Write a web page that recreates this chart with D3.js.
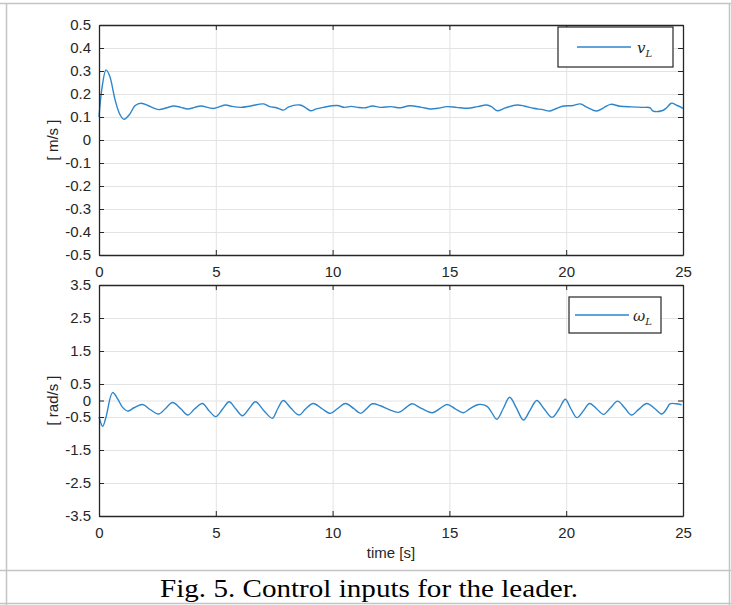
<!DOCTYPE html>
<html>
<head>
<meta charset="utf-8">
<script src="https://cdn.jsdelivr.net/npm/d3@7"></script>
<style>
  body { margin: 0; background: #fff; }
  text { font-family: "Liberation Sans", Arial, sans-serif; }
</style>
</head>
<body>
<div id="the_chart"></div>
<script>
// leader linear velocity v_L [m/s]
var timeV = [0, 0.12, 0.3, 0.45, 0.7, 0.9, 1.07, 1.3, 1.55, 1.8, 2.2, 2.56, 2.9, 3.2, 3.5, 3.8, 4.1, 4.36, 4.9, 5.4,
    5.7, 6.07, 6.5, 7.05, 7.3, 7.6, 7.9, 8.1, 8.6, 8.85, 9.06, 9.3, 9.6, 10.2, 10.5, 10.8, 11.06, 11.4, 11.7, 12.05,
    12.5, 12.9, 13.3, 13.8, 14.2, 14.5, 14.9, 15.3, 15.8, 16.2, 16.6, 16.8, 17.05, 17.4, 17.9, 18.2, 18.6, 19.0, 19.3,
    19.6, 19.9, 20.3, 20.6, 20.9, 21.3, 21.6, 21.9, 22.3, 22.8, 23.3, 23.6, 23.7, 24.1, 24.3, 24.5, 24.75, 25];
var valV = [0.10, 0.22, 0.305, 0.28, 0.17, 0.11, 0.09, 0.11, 0.15, 0.16, 0.145, 0.132, 0.14, 0.148, 0.142, 0.135, 0.142, 0.148, 0.137, 0.152,
    0.146, 0.142, 0.148, 0.157, 0.145, 0.14, 0.13, 0.143, 0.152, 0.14, 0.127, 0.135, 0.142, 0.15, 0.142, 0.146, 0.142, 0.14, 0.148, 0.142,
    0.145, 0.14, 0.149, 0.142, 0.135, 0.138, 0.145, 0.142, 0.138, 0.145, 0.152, 0.145, 0.127, 0.14, 0.152, 0.148, 0.138, 0.132, 0.126,
    0.138, 0.148, 0.15, 0.157, 0.142, 0.126, 0.14, 0.155, 0.147, 0.144, 0.142, 0.14, 0.127, 0.127, 0.14, 0.16, 0.15, 0.138];

// leader angular velocity omega_L [rad/s]
var timeW = [0, 0.16, 0.3, 0.58, 0.8, 1.0, 1.23, 1.5, 1.87, 2.2, 2.56, 2.85, 3.15, 3.5, 3.8, 4.1, 4.43, 4.7, 5.0, 5.3,
    5.57, 5.85, 6.14, 6.42, 6.7, 7.05, 7.42, 7.65, 7.89, 8.2, 8.56, 8.85, 9.17, 9.55, 9.9, 10.2, 10.55, 10.9, 11.2, 11.45,
    11.7, 12.05, 12.4, 12.83, 13.1, 13.4, 13.8, 14.27, 14.6, 14.9, 15.25, 15.6, 15.9, 16.25, 16.6, 16.8, 17.03, 17.3, 17.58,
    17.85, 18.17, 18.45, 18.74, 19.05, 19.4, 19.7, 19.96, 20.2, 20.46, 20.75, 21.0, 21.3, 21.6, 21.9, 22.2, 22.5, 22.8,
    23.1, 23.45, 23.8, 24.1, 24.3, 24.44, 24.7, 24.94];
var valW = [-0.5, -0.78, -0.5, 0.24, 0.05, -0.2, -0.32, -0.22, -0.12, -0.28, -0.41, -0.24, -0.06, -0.25, -0.44, -0.25, -0.09, -0.3, -0.49, -0.25,
    -0.04, -0.25, -0.46, -0.25, -0.04, -0.3, -0.54, -0.25, 0.0, -0.22, -0.44, -0.25, -0.09, -0.25, -0.39, -0.25, -0.09, -0.24, -0.39, -0.25,
    -0.1, -0.16, -0.27, -0.36, -0.24, -0.1, -0.24, -0.37, -0.24, -0.12, -0.25, -0.37, -0.24, -0.12, -0.17, -0.35, -0.57, -0.25, 0.1,
    -0.2, -0.59, -0.3, 0.0, -0.25, -0.51, -0.25, 0.04, -0.25, -0.52, -0.3, -0.09, -0.25, -0.42, -0.22, -0.02, -0.22, -0.44,
    -0.27, -0.09, -0.25, -0.41, -0.25, -0.1, -0.1, -0.13];

var xTicks = [0, 5, 10, 15, 20, 25];
var yTicksV = [-0.5, -0.4, -0.3, -0.2, -0.1, 0, 0.1, 0.2, 0.3, 0.4, 0.5];
var yTicksW = [-3.5, -2.5, -1.5, -0.5, 0, 0.5, 1.5, 2.5, 3.5];

var w = 731, h = 605;
var ink = "#262626", lineColor = "#2d86cc", gridColor = "#e3e3e3";

var svg = d3.select("#the_chart")
    .append("svg")
    .attr("width", w)
    .attr("height", h);

svg.append("rect").attr("width", w).attr("height", h).attr("fill", "#fff");

// table frame round the figure
var frame = svg.append("g").attr("stroke", "#c4c4c4").attr("stroke-width", 1.5);
frame.append("line").attr("x1", 0).attr("x2", w).attr("y1", 3.5).attr("y2", 3.5);
frame.append("line").attr("x1", 6.5).attr("x2", 6.5).attr("y1", 3).attr("y2", h);
frame.append("line").attr("x1", 729.5).attr("x2", 729.5).attr("y1", 3).attr("y2", h);
frame.append("line").attr("x1", 0).attr("x2", w).attr("y1", 570.5).attr("y2", 570.5);
frame.append("line").attr("x1", 0).attr("x2", w).attr("y1", 603.5).attr("y2", 603.5);

function gen_plot(times, vals, yTicks, top, bottom, yLabel, legend) {
    var left = 99, right = 683;

    var xscale = d3.scaleLinear().domain([0, 25]).range([left, right]);
    var yscale = d3.scaleLinear()
        .domain([yTicks[0], yTicks[yTicks.length - 1]])
        .range([bottom, top]);

    var g = svg.append("g");

    // grid
    g.append("g")
        .attr("transform", "translate(0," + bottom + ")")
        .call(d3.axisBottom(xscale).tickValues(xTicks).tickSize(-(bottom - top)).tickFormat(""))
        .call(function (a) { a.select(".domain").remove(); })
        .selectAll("line").attr("stroke", gridColor);
    g.append("g")
        .attr("transform", "translate(" + left + ",0)")
        .call(d3.axisLeft(yscale).tickValues(yTicks).tickSize(-(right - left)).tickFormat(""))
        .call(function (a) { a.select(".domain").remove(); })
        .selectAll("line").attr("stroke", gridColor);

    // data line
    var data = times.map(function (t, i) { return [t, vals[i]]; });
    g.append("path")
        .datum(data)
        .attr("fill", "none")
        .attr("stroke", lineColor)
        .attr("stroke-width", 1.4)
        .attr("d", d3.line()
            .x(function (d) { return xscale(d[0]); })
            .y(function (d) { return yscale(d[1]); })
            .curve(d3.curveCatmullRom.alpha(0.5)));

    // axes with inward ticks on all four sides
    var fmt = function (d) { return String(d); };
    var xb = g.append("g").attr("transform", "translate(0," + bottom + ")")
        .call(d3.axisBottom(xscale).tickValues(xTicks).tickSizeInner(-5).tickSizeOuter(0).tickPadding(11).tickFormat(fmt));
    var yl = g.append("g").attr("transform", "translate(" + left + ",0)")
        .call(d3.axisLeft(yscale).tickValues(yTicks).tickSizeInner(-5).tickSizeOuter(0).tickPadding(8).tickFormat(fmt));
    var xt = g.append("g").attr("transform", "translate(0," + top + ")")
        .call(d3.axisTop(xscale).tickValues(xTicks).tickSizeInner(-5).tickSizeOuter(0).tickFormat(""));
    var yr = g.append("g").attr("transform", "translate(" + right + ",0)")
        .call(d3.axisRight(yscale).tickValues(yTicks).tickSizeInner(-5).tickSizeOuter(0).tickFormat(""));

    [xb, yl, xt, yr].forEach(function (a) {
        a.select(".domain").attr("stroke", ink).attr("stroke-width", 1.3);
        a.selectAll(".tick line").attr("stroke", ink);
        a.selectAll("text").attr("fill", ink).style("font-size", "15px").style("font-family", "'Liberation Sans', Arial, sans-serif");
    });

    g.append("text")
        .attr("transform", "translate(58," + ((top + bottom) / 2) + ") rotate(-90)")
        .attr("text-anchor", "middle")
        .attr("fill", ink)
        .style("font-size", "15px")
        .text(yLabel);

    // legend
    var lg = g.append("g");
    lg.append("rect")
        .attr("x", legend.x).attr("y", legend.y)
        .attr("width", legend.w).attr("height", legend.h)
        .attr("fill", "#fff").attr("stroke", ink).attr("stroke-width", 1.2);
    lg.append("line")
        .attr("x1", legend.x + legend.lx).attr("x2", legend.x + legend.lx + 54)
        .attr("y1", legend.y + legend.h / 2).attr("y2", legend.y + legend.h / 2)
        .attr("stroke", lineColor).attr("stroke-width", 1.4);
    var lt = lg.append("text")
        .attr("x", legend.x + legend.tx)
        .attr("y", legend.y + legend.h / 2 + 6)
        .attr("fill", ink)
        .style("font-family", "'DejaVu Serif', 'Liberation Serif', serif")
        .style("font-style", "italic")
        .style("font-size", "15px");
    lt.append("tspan").text(legend.sym);
    lt.append("tspan").attr("dy", 4).style("font-size", "10px").text("L");
}

gen_plot(timeV, valV, yTicksV, 25, 255, "[ m/s ]",
    { x: 558, y: 27, w: 115, h: 40, lx: 19, tx: 79, sym: "v" });
gen_plot(timeW, valW, yTicksW, 285, 516, "[ rad/s ]",
    { x: 569, y: 297, w: 92, h: 36, lx: 6, tx: 64, sym: "\u03c9" });

svg.append("text")
    .attr("x", 391).attr("y", 558)
    .attr("text-anchor", "middle")
    .attr("fill", ink)
    .style("font-size", "15px")
    .text("time [s]");

svg.append("text")
    .attr("x", 369).attr("y", 597)
    .attr("text-anchor", "middle")
    .attr("fill", "#000")
    .attr("textLength", 418)
    .attr("lengthAdjust", "spacingAndGlyphs")
    .style("font-family", "'Liberation Serif', 'Times New Roman', serif")
    .style("font-size", "26px")
    .text("Fig. 5. Control inputs for the leader.");
</script>
</body>
</html>
